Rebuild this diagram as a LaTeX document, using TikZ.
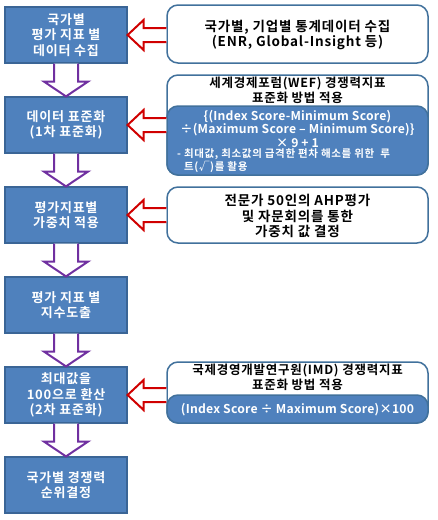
\documentclass[tikz,border=0pt]{standalone}
\usepackage{fontspec}
\setmainfont{Noto Sans CJK KR}[BoldFont=* Bold]
\newfontfamily\krsp{Noto Sans CJK KR}[BoldFont=* Bold, LetterSpace=6]
\newfontfamily\krlat{Noto Sans CJK KR}[BoldFont=* Bold, LetterSpace=2]
\usetikzlibrary{calc}
\definecolor{boxblue}{HTML}{4F81BD}
\definecolor{boxedge}{HTML}{3A6596}
\definecolor{redge}{HTML}{41719C}
\definecolor{arrpurple}{HTML}{7030A0}
\definecolor{arrred}{HTML}{D00000}
\tikzset{
  lbox/.style={draw=boxedge, fill=boxblue, line width=1.2pt, minimum width=122pt, minimum height=56pt,
    inner sep=0pt, text=white, align=center, font=\krsp\bfseries\fontsize{13}{15.5}\selectfont},
  rbox/.style={draw=redge, fill=white, line width=1.5pt, rounded corners=11pt, inner sep=0pt},
  rblue/.style={draw=redge, fill=boxblue, line width=1.5pt, rounded corners=11pt, inner sep=0pt},
  rtext/.style={align=center, inner sep=0pt, font=\krsp\bfseries\fontsize{13.5}{15.5}\selectfont},
  ttext/.style={align=center, inner sep=0pt, font=\krsp\bfseries\fontsize{12.5}{15}\selectfont},
  wtext/.style={align=center, inner sep=0pt, text=white, font=\krlat\bfseries\fontsize{12.2}{13.5}\selectfont},
  ntext/.style={anchor=west, inner sep=0pt, text=white, font=\krsp\bfseries\fontsize{10.5}{11}\selectfont},
  purplearr/.style={draw=arrpurple, fill=white, line width=2pt, line join=miter},
  redarr/.style={draw=arrred, fill=white, line width=2pt, line join=miter},
}
\newcommand\varrowdraw[2]{%
  \draw[purplearr] ($(#1.south)+(-12,0)$) -- ($(#1.south)+(-12,18)$) -- ($(#1.south)+(-22,18)$)
    -- (#2.north) -- ($(#1.south)+(22,18)$) -- ($(#1.south)+(12,18)$) -- ($(#1.south)+(12,0)$);}
\newcommand\harrowdraw[2]{%
  \draw[redarr] ($(#1.west |- #2.east)+(0,-7)$) -- ($(#2.east)+(16,-7)$) -- ($(#2.east)+(16,-15)$)
    -- (#2.east) -- ($(#2.east)+(16,15)$) -- ($(#2.east)+(16,7)$) -- ($(#1.west |- #2.east)+(0,7)$);}
\begin{document}
\begin{tikzpicture}[x=1pt,y=-1pt]
\useasboundingbox (0,0) rectangle (438,520);
% left column
\node[lbox] (b1) at (66,35) {국가별\\평가 지표 별\\데이터 수집};
\node[lbox] (b2) at (66,125) {데이터 표준화\\(1차 표준화)};
\node[lbox] (b3) at (66,215) {평가지표별\\가중치 적용};
\node[lbox] (b4) at (66,305) {평가 지표 별\\지수도출};
\node[lbox] (b5) at (66,395) {최대값을\\100으로 환산\\(2차 표준화)};
\node[lbox] (b6) at (66,485) {국가별 경쟁력\\순위결정};
% purple arrows
\varrowdraw{b1}{b2}
\varrowdraw{b2}{b3}
\varrowdraw{b3}{b4}
\varrowdraw{b4}{b5}
\varrowdraw{b5}{b6}
% right boxes
\node[rbox, minimum width=261pt, minimum height=58pt] (r1) at (297.5,34) {};
\node[rtext] (r1t) at (297.5,35) {국가별, 기업별 통계데이터 수집\\(ENR, Global-Insight 등)};

\node[rbox, minimum width=261pt, minimum height=100pt] (r2) at (297.5,125) {};
\node[rblue, minimum width=261pt, minimum height=69pt] (r2b) at (297.5,140.5) {};
\node[ttext] (r2t) at (297.5,90) {세계경제포럼(WEF) 경쟁력지표\\표준화 방법 적용};
\node[wtext] (r2f) at (297.5,128.5) {\{(Index Score-Minimum Score)\\÷(Maximum Score – Minimum Score)\}\\× 9 + 1};
\node[ntext] (r2n1) at (177,154.5) {- 최대값, 최소값의 급격한 편차 해소를 위한\ \ 루};
\node[ntext] (r2n2) at (184,166.5) {트(√)를 활용};

\node[rbox, minimum width=261pt, minimum height=56pt] (r3) at (297.5,215) {};
\node[rtext] (r3t) at (297.5,216) {전문가 50인의 AHP평가\\및 자문회의를 통한\\가중치 값 결정};

\node[rbox, minimum width=261pt, minimum height=61pt] (r4) at (297.5,392.5) {};
\node[rblue, minimum width=261pt, minimum height=28pt] (r4b) at (297.5,409) {};
\node[ttext] (r4t) at (297.5,377.5) {국제경영개발연구원(IMD) 경쟁력지표\\표준화 방법 적용};
\node[wtext] (r4f) at (297.5,409.5) {(Index Score ÷ Maximum Score)×100};
% red arrows
\harrowdraw{r1}{b1}
\harrowdraw{r2}{b2}
\harrowdraw{r3}{b3}
\harrowdraw{r4}{b5}
\end{tikzpicture}
\end{document}
